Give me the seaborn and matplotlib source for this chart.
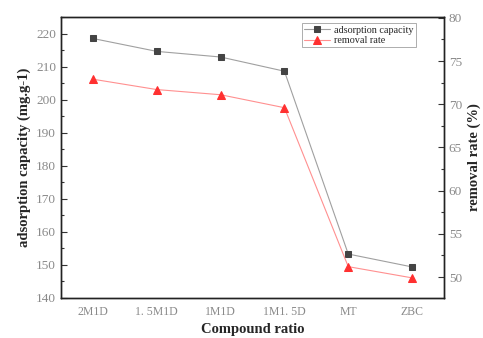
import matplotlib
matplotlib.use("Agg")
import matplotlib.pyplot as plt
import seaborn as sns
import pandas as pd
from matplotlib.ticker import MultipleLocator, AutoMinorLocator

# data
ratios = ['2M1D', '1.\u00a05M1D', '1M1D', '1M1.\u00a05D', 'MT', 'ZBC']
capacity = [218.5, 214.6, 212.9, 208.6, 153.3, 149.4]
removal = [72.9, 71.7, 71.1, 69.6, 51.2, 49.9]

df = pd.DataFrame({'ratio': ratios, 'pos': range(len(ratios)),
                   'capacity': capacity, 'removal': removal})

sns.set_style('white')
plt.rcParams['font.family'] = ['Liberation Serif', 'DejaVu Serif']

fig = plt.figure(figsize=(4.83, 3.38), dpi=100)
ax = fig.add_axes([61 / 483, 1 - 298 / 338, (444 - 61) / 483, (298 - 17) / 338])
ax2 = ax.twinx()

sns.lineplot(data=df, x='pos', y='capacity', ax=ax, color='#a0a0a0',
             lw=0.8, marker='s', markersize=5, markerfacecolor='#444444',
             markeredgecolor='#444444', label='adsorption capacity', legend=False)
sns.lineplot(data=df, x='pos', y='removal', ax=ax2, color='#ff9090',
             lw=0.8, marker='^', markersize=6, markerfacecolor='#ff3030',
             markeredgecolor='#ff3030', label='removal rate', legend=False)

ax.set_xlim(-0.5, 5.5)
ax.set_ylim(140, 225)
ax2.set_ylim(47.57, 80.1)
ax.set_xticks(df['pos'])
ax.set_xticklabels(ratios)
ax.xaxis.set_minor_locator(AutoMinorLocator(2))
ax.yaxis.set_major_locator(MultipleLocator(10))
ax.yaxis.set_minor_locator(AutoMinorLocator(2))
ax2.yaxis.set_major_locator(MultipleLocator(5))
ax2.yaxis.set_minor_locator(AutoMinorLocator(2))

for a in (ax, ax2):
    a.tick_params(which='both', direction='in', labelsize=9.5, labelcolor='#8a8a8a',
                  color='#333333', width=0.8)
    a.tick_params(which='major', length=4)
    a.tick_params(which='minor', length=2)
    for s in a.spines.values():
        s.set_color('#222222')
        s.set_linewidth(1.0)
ax.tick_params(axis='x', pad=6, labelsize=8.5)

ax.set_xlabel('Compound ratio', fontsize=10.5, fontweight='bold', labelpad=3)
ax.set_ylabel('adsorption capacity (mg.g-1)', fontsize=10.5, fontweight='bold')
ax2.set_ylabel('removal rate (%)', fontsize=10.5, fontweight='bold')

h1, lab1 = ax.get_legend_handles_labels()
h2, lab2 = ax2.get_legend_handles_labels()
leg = ax2.legend(h1 + h2, lab1 + lab2, loc='upper right', fontsize=7.3,
                 frameon=True, fancybox=False, edgecolor='#888888',
                 borderpad=0.2, handlelength=2.6, handletextpad=0.4,
                 labelspacing=0.15, bbox_to_anchor=(0.94, 0.995))
leg.get_frame().set_linewidth(0.6)

fig.savefig('out.png', dpi=100)
